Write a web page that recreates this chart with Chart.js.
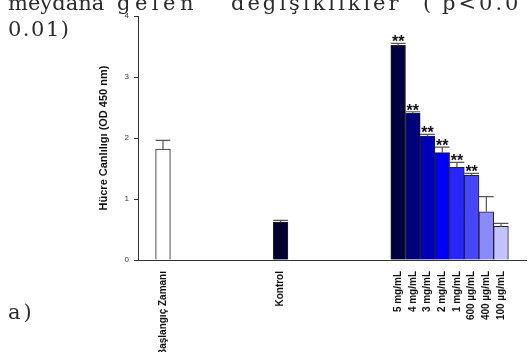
<!DOCTYPE html>
<html>
<head>
<meta charset="utf-8">
<script src="https://cdn.jsdelivr.net/npm/chart.js@4/dist/chart.umd.min.js"></script>
<style>
  html, body { margin: 0; padding: 0; background: #fff; }
  #wrap { position: relative; width: 531px; height: 352px; overflow: hidden; }
</style>
</head>
<body>
<div id="wrap"><canvas id="chart" width="531" height="352"></canvas></div>
<script>
// categories and their slot on the x axis
const categories = ['Başlangıç Zamanı', 'Kontrol', '5 mg/mL', '4 mg/mL', '3 mg/mL', '2 mg/mL', '1 mg/mL', '600 µg/mL', '400 µg/mL', '100 µg/mL'];
const slots = [0, 8, 16, 17, 18, 19, 20, 21, 22, 23];
// mean OD 450 nm and upper error
const means = [1.82, 0.62, 3.52, 2.41, 2.03, 1.76, 1.52, 1.39, 0.79, 0.55];
const errors = [0.14, 0.03, 0.03, 0.02, 0.03, 0.09, 0.08, 0.03, 0.25, 0.05];
const stars = ['', '', '**', '**', '**', '**', '**', '**', '', ''];
const yTicks = [0, 1, 2, 3, 4];
const barColors = ['#ffffff', '#000033', '#000040', '#00007c', '#0000bb', '#0000f5', '#2626ff', '#4646ff', '#8a8aff', '#c2c2ff'];

// text around the figure (part of the surrounding page)
const pageText = [
  { t: 'meydana', x: 8, y: 10, sp: 0 },
  { t: 'gelen', x: 117, y: 10, sp: 4.5 },
  { t: 'değişiklikler', x: 231, y: 10, sp: 3 },
  { t: '(', x: 423, y: 10, sp: 0 },
  { t: 'p<0.0', x: 442, y: 10, sp: 3 },
  { t: '0.01)', x: 8, y: 36, sp: 1.5 },
  { t: 'a)', x: 8, y: 319, sp: 3 }
];

const errorBars = {
  id: 'errorBars',
  afterDatasetsDraw(chart) {
    const ctx = chart.ctx;
    const yScale = chart.scales.y;
    const meta = chart.getDatasetMeta(0);
    ctx.save();
    meta.data.forEach((bar, i) => {
      const half = bar.width / 2;
      const yTop = yScale.getPixelForValue(means[i] + errors[i]);
      ctx.strokeStyle = '#555';
      ctx.lineWidth = 1.2;
      ctx.beginPath();
      ctx.moveTo(bar.x, bar.y);
      ctx.lineTo(bar.x, yTop);
      ctx.moveTo(bar.x - half, yTop);
      ctx.lineTo(bar.x + half, yTop);
      ctx.stroke();
      if (stars[i]) {
        ctx.font = 'bold 16px "Liberation Sans", Arial';
        ctx.fillStyle = '#111';
        ctx.textAlign = 'center';
        ctx.textBaseline = 'alphabetic';
        const m = ctx.measureText(stars[i]);
        ctx.fillText(stars[i], bar.x, yTop - 1 - m.actualBoundingBoxDescent);
      }
    });
    ctx.restore();
  }
};

const surroundText = {
  id: 'surroundText',
  afterDraw(chart) {
    const ctx = chart.ctx;
    ctx.save();
    ctx.font = '21px "DejaVu Serif"';
    ctx.fillStyle = '#2b2b2b';
    ctx.textAlign = 'left';
    ctx.textBaseline = 'alphabetic';
    pageText.forEach(p => {
      ctx.letterSpacing = p.sp + 'px';
      ctx.fillText(p.t, p.x, p.y);
    });
    ctx.restore();
  }
};

new Chart(document.getElementById('chart'), {
  type: 'bar',
  data: {
    datasets: [{
      data: slots.map((x, i) => ({ x: x, y: means[i] })),
      backgroundColor: barColors,
      borderColor: '#222',
      borderWidth: 1,
      borderSkipped: 'bottom',
      barPercentage: 1,
      categoryPercentage: 1
    }]
  },
  options: {
    responsive: false,
    animation: false,
    layout: { padding: { left: 97, top: 16, right: 5, bottom: 0 } },
    plugins: {
      legend: { display: false },
      tooltip: { enabled: false }
    },
    scales: {
      x: {
        type: 'linear',
        offset: false,
        min: -1.7,
        max: 24.7,
        afterBuildTicks: s => { s.ticks = slots.map(v => ({ value: v })); },
        afterFit: s => { s.height = 92; },
        grid: { display: false },
        border: { color: '#333', width: 1 },
        ticks: {
          autoSkip: false,
          minRotation: 90,
          maxRotation: 90,
          padding: 3,
          color: '#111',
          font: { family: '"Liberation Sans", Arial', size: 10, weight: 'bold' },
          callback: (v, i) => categories[i]
        }
      },
      y: {
        min: 0,
        max: 4,
        afterBuildTicks: s => { s.ticks = yTicks.map(v => ({ value: v })); },
        afterFit: s => { s.width = 41; },
        grid: { drawOnChartArea: false, tickLength: 4, color: '#333' },
        border: { color: '#333', width: 1 },
        ticks: {
          padding: 5,
          color: '#333',
          font: { family: '"Liberation Sans", Arial', size: 8 }
        },
        title: {
          display: true,
          text: 'Hücre Canlılıgı (OD 450 nm)',
          color: '#111',
          padding: 0,
          font: { family: '"Liberation Sans", Arial', size: 11, weight: 'bold' }
        }
      }
    }
  },
  plugins: [errorBars, surroundText]
});
</script>
</body>
</html>
